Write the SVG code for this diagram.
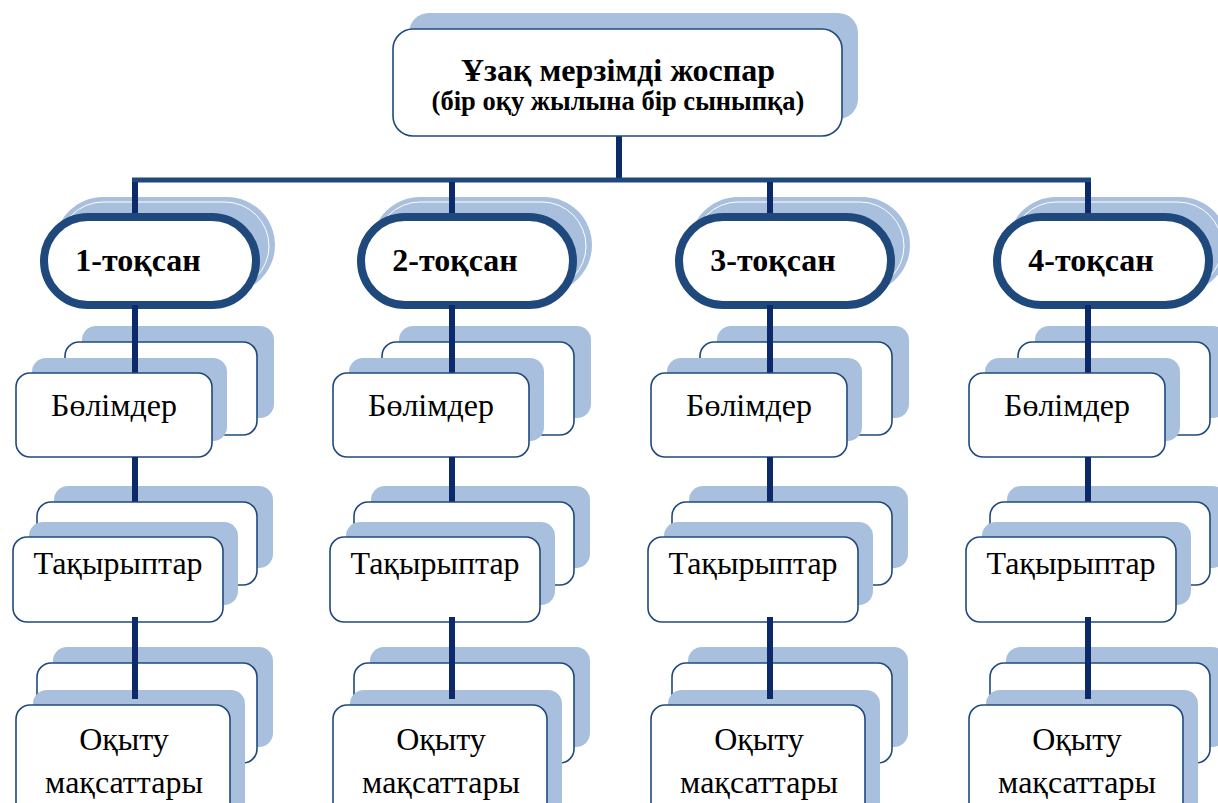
<svg xmlns="http://www.w3.org/2000/svg" width="1218" height="803" viewBox="0 0 1218 803">
<style>
.sh{fill:#a8c0de;stroke:none}
.bx{fill:#fff;stroke:#1f497d;stroke-width:1.6}
.pill{fill:#fff;stroke:#1f497d;stroke-width:8}
.pin{fill:none;stroke:#fff;stroke-width:1}
.ln{stroke:#0c2a69;stroke-width:6;fill:none}
.bar{stroke:#1f497d;stroke-width:5;fill:none}
.t{font-family:"Liberation Serif","Times New Roman",serif;fill:#000;text-anchor:middle}
.tr{font-size:32px}
.tb{font-size:32px;font-weight:bold}
</style>
<rect width="1218" height="803" fill="#fff"/>

<g id="connectors">
<line class="ln" x1="619" y1="136" x2="619" y2="181"/>
<line class="bar" x1="132" y1="180" x2="1091" y2="180"/>
</g>

<g id="n-top">
<rect class="sh" x="409" y="13" width="449" height="106" rx="20"/>
<rect class="bx" x="393" y="29" width="449" height="107" rx="20"/>
<text class="t tb" x="618" y="81">Ұзақ мерзімді жоспар</text>
<text class="t" x="618" y="110" style="font-size:26.5px;font-weight:bold">(бір оқу жылына бір сыныпқа)</text>
</g>

<!-- Column 1 -->
<g id="col1" transform="translate(135,0)">
<g id="n-q1">
<rect class="sh" x="-80" y="197" width="220" height="96" rx="48"/>
<rect class="pin" x="-76" y="202" width="210" height="88" rx="44"/>
<line class="ln" x1="0" y1="182" x2="0" y2="216"/>
<rect class="pill" x="-91" y="217" width="212" height="88" rx="44"/>
<text class="t tb" x="3" y="271">1-тоқсан</text>
</g>
<g id="n-b1">
<rect class="sh" x="-53" y="326" width="192" height="92" rx="14"/>
<rect class="bx" x="-70" y="342" width="192" height="93" rx="14"/>
<rect class="sh" x="-103" y="358" width="195" height="83" rx="14"/>
<line class="ln" x1="0" y1="305" x2="0" y2="374"/>
<rect class="bx" x="-119" y="373" width="196" height="84" rx="14"/>
<text class="t tr" x="-21" y="416">Бөлімдер</text>
</g>
<g id="n-t1">
<rect class="sh" x="-81" y="486" width="219" height="82" rx="14"/>
<line class="ln" x1="0" y1="457" x2="0" y2="503"/>
<rect class="bx" x="-98" y="502" width="220" height="83" rx="14"/>
<rect class="sh" x="-106" y="522" width="209" height="83" rx="14"/>
<rect class="bx" x="-122" y="537" width="210" height="85" rx="14"/>
<text class="t tr" x="-17" y="574">Тақырыптар</text>
</g>
<g id="n-o1">
<rect class="sh" x="-82" y="647" width="220" height="100" rx="14"/>
<rect class="bx" x="-98" y="663" width="220" height="100" rx="14"/>
<rect class="sh" x="-102" y="690" width="212" height="130" rx="14"/>
<line class="ln" x1="0" y1="617" x2="0" y2="699"/>
<rect class="bx" x="-119" y="705" width="214" height="120" rx="14"/>
<text class="t tr" x="-11" y="750">Оқыту</text>
<text class="t tr" x="-11" y="793">мақсаттары</text>
</g>
</g>

<!-- Column 2 -->
<g id="col2" transform="translate(452,0)">
<g id="n-q2">
<rect class="sh" x="-80" y="197" width="220" height="96" rx="48"/>
<rect class="pin" x="-76" y="202" width="210" height="88" rx="44"/>
<line class="ln" x1="0" y1="182" x2="0" y2="216"/>
<rect class="pill" x="-91" y="217" width="212" height="88" rx="44"/>
<text class="t tb" x="3" y="271">2-тоқсан</text>
</g>
<g id="n-b2">
<rect class="sh" x="-53" y="326" width="192" height="92" rx="14"/>
<rect class="bx" x="-70" y="342" width="192" height="93" rx="14"/>
<rect class="sh" x="-103" y="358" width="195" height="83" rx="14"/>
<line class="ln" x1="0" y1="305" x2="0" y2="374"/>
<rect class="bx" x="-119" y="373" width="196" height="84" rx="14"/>
<text class="t tr" x="-21" y="416">Бөлімдер</text>
</g>
<g id="n-t2">
<rect class="sh" x="-81" y="486" width="219" height="82" rx="14"/>
<line class="ln" x1="0" y1="457" x2="0" y2="503"/>
<rect class="bx" x="-98" y="502" width="220" height="83" rx="14"/>
<rect class="sh" x="-106" y="522" width="209" height="83" rx="14"/>
<rect class="bx" x="-122" y="537" width="210" height="85" rx="14"/>
<text class="t tr" x="-17" y="574">Тақырыптар</text>
</g>
<g id="n-o2">
<rect class="sh" x="-82" y="647" width="220" height="100" rx="14"/>
<rect class="bx" x="-98" y="663" width="220" height="100" rx="14"/>
<rect class="sh" x="-102" y="690" width="212" height="130" rx="14"/>
<line class="ln" x1="0" y1="617" x2="0" y2="699"/>
<rect class="bx" x="-119" y="705" width="214" height="120" rx="14"/>
<text class="t tr" x="-11" y="750">Оқыту</text>
<text class="t tr" x="-11" y="793">мақсаттары</text>
</g>
</g>

<!-- Column 3 -->
<g id="col3" transform="translate(770,0)">
<g id="n-q3">
<rect class="sh" x="-80" y="197" width="220" height="96" rx="48"/>
<rect class="pin" x="-76" y="202" width="210" height="88" rx="44"/>
<line class="ln" x1="0" y1="182" x2="0" y2="216"/>
<rect class="pill" x="-91" y="217" width="212" height="88" rx="44"/>
<text class="t tb" x="3" y="271">3-тоқсан</text>
</g>
<g id="n-b3">
<rect class="sh" x="-53" y="326" width="192" height="92" rx="14"/>
<rect class="bx" x="-70" y="342" width="192" height="93" rx="14"/>
<rect class="sh" x="-103" y="358" width="195" height="83" rx="14"/>
<line class="ln" x1="0" y1="305" x2="0" y2="374"/>
<rect class="bx" x="-119" y="373" width="196" height="84" rx="14"/>
<text class="t tr" x="-21" y="416">Бөлімдер</text>
</g>
<g id="n-t3">
<rect class="sh" x="-81" y="486" width="219" height="82" rx="14"/>
<line class="ln" x1="0" y1="457" x2="0" y2="503"/>
<rect class="bx" x="-98" y="502" width="220" height="83" rx="14"/>
<rect class="sh" x="-106" y="522" width="209" height="83" rx="14"/>
<rect class="bx" x="-122" y="537" width="210" height="85" rx="14"/>
<text class="t tr" x="-17" y="574">Тақырыптар</text>
</g>
<g id="n-o3">
<rect class="sh" x="-82" y="647" width="220" height="100" rx="14"/>
<rect class="bx" x="-98" y="663" width="220" height="100" rx="14"/>
<rect class="sh" x="-102" y="690" width="212" height="130" rx="14"/>
<line class="ln" x1="0" y1="617" x2="0" y2="699"/>
<rect class="bx" x="-119" y="705" width="214" height="120" rx="14"/>
<text class="t tr" x="-11" y="750">Оқыту</text>
<text class="t tr" x="-11" y="793">мақсаттары</text>
</g>
</g>

<!-- Column 4 -->
<g id="col4" transform="translate(1088,0)">
<g id="n-q4">
<rect class="sh" x="-80" y="197" width="220" height="96" rx="48"/>
<rect class="pin" x="-76" y="202" width="210" height="88" rx="44"/>
<line class="ln" x1="0" y1="182" x2="0" y2="216"/>
<rect class="pill" x="-91" y="217" width="212" height="88" rx="44"/>
<text class="t tb" x="3" y="271">4-тоқсан</text>
</g>
<g id="n-b4">
<rect class="sh" x="-53" y="326" width="192" height="92" rx="14"/>
<rect class="bx" x="-70" y="342" width="192" height="93" rx="14"/>
<rect class="sh" x="-103" y="358" width="195" height="83" rx="14"/>
<line class="ln" x1="0" y1="305" x2="0" y2="374"/>
<rect class="bx" x="-119" y="373" width="196" height="84" rx="14"/>
<text class="t tr" x="-21" y="416">Бөлімдер</text>
</g>
<g id="n-t4">
<rect class="sh" x="-81" y="486" width="219" height="82" rx="14"/>
<line class="ln" x1="0" y1="457" x2="0" y2="503"/>
<rect class="bx" x="-98" y="502" width="220" height="83" rx="14"/>
<rect class="sh" x="-106" y="522" width="209" height="83" rx="14"/>
<rect class="bx" x="-122" y="537" width="210" height="85" rx="14"/>
<text class="t tr" x="-17" y="574">Тақырыптар</text>
</g>
<g id="n-o4">
<rect class="sh" x="-82" y="647" width="220" height="100" rx="14"/>
<rect class="bx" x="-98" y="663" width="220" height="100" rx="14"/>
<rect class="sh" x="-102" y="690" width="212" height="130" rx="14"/>
<line class="ln" x1="0" y1="617" x2="0" y2="699"/>
<rect class="bx" x="-119" y="705" width="214" height="120" rx="14"/>
<text class="t tr" x="-11" y="750">Оқыту</text>
<text class="t tr" x="-11" y="793">мақсаттары</text>
</g>
</g>
</svg>
